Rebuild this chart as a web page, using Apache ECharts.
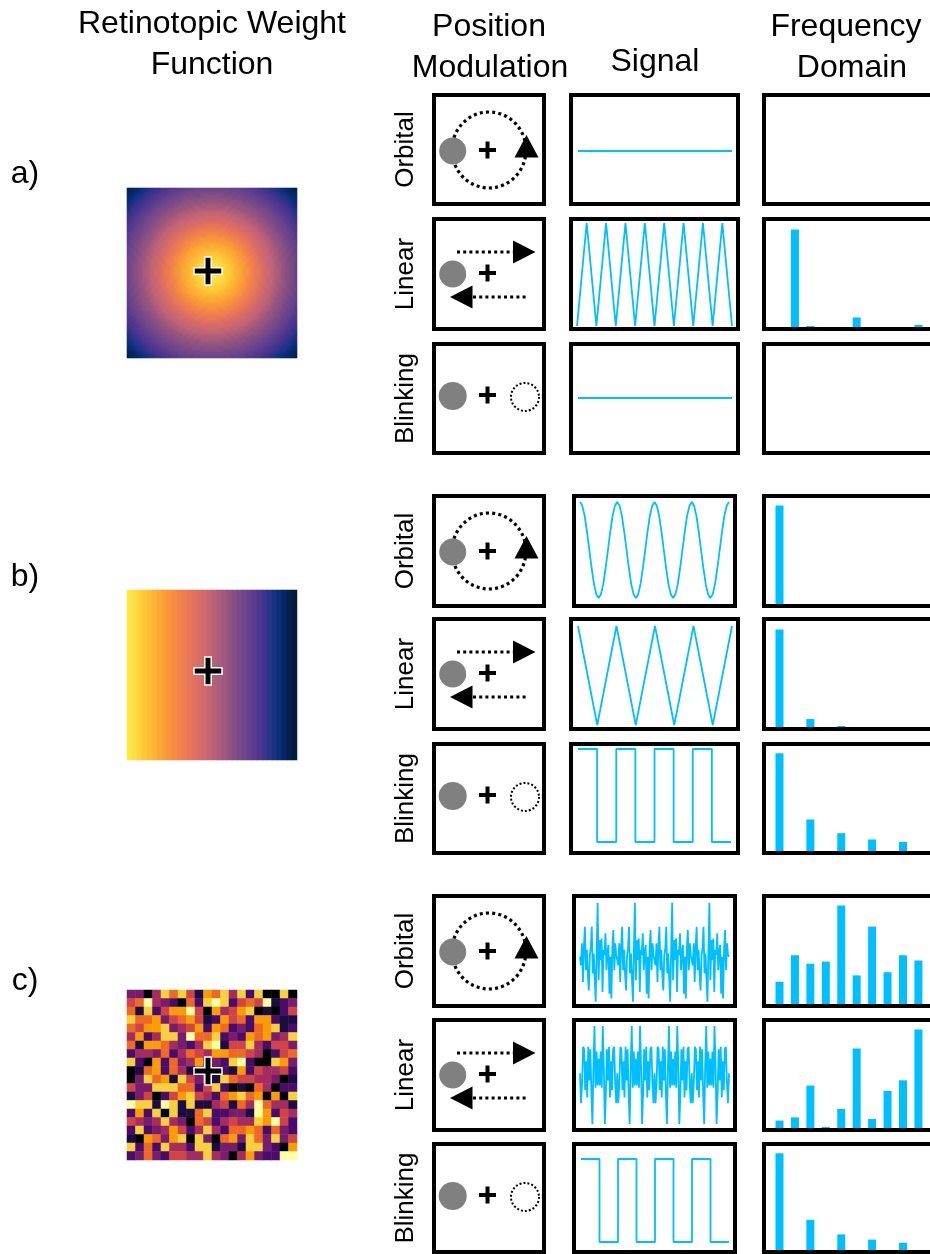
<!DOCTYPE html>
<html><head><meta charset="utf-8">
<script src="https://cdn.jsdelivr.net/npm/echarts@6/dist/echarts.min.js"></script>
<style>html,body{margin:0;padding:0;background:#fff}#chart{width:930px;height:1254px}</style>
</head><body><div id="chart"></div>
<script>
// ================= DATA =================
const headerLines = [
  ['Retinotopic Weight', 'Function'],
  ['Position', 'Modulation'],
  ['Signal'],
  ['Frequency', 'Domain']
];
const rowLabels = ['a)', 'b)', 'c)'];
const modulationNames = ['Orbital', 'Linear', 'Blinking'];

// a) radial weight profile (value vs distance from centre, 2.5 px steps)
const weightProfileA = [1.00,1.00,0.99,0.98,0.97,0.95,0.93,0.91,0.89,0.865,0.84,0.82,0.80,0.775,0.75,0.725,0.70,0.675,0.65,0.625,0.60,0.575,0.55,0.525,0.50,0.48,0.46,0.435,0.41,0.39,0.37,0.35,0.33,0.31,0.29,0.27,0.25,0.23,0.21,0.19,0.17,0.15,0.13,0.11,0.09,0.07,0.05,0.035,0.02,0.01,0.00];
const profileStepPx = 2.5;
// b) horizontal gradient, 34 columns left -> right
const weightColumnsB = [1.00,0.97,0.94,0.91,0.88,0.85,0.82,0.79,0.76,0.73,0.70,0.67,0.64,0.61,0.58,0.55,0.52,0.48,0.45,0.42,0.39,0.36,0.33,0.30,0.27,0.24,0.21,0.18,0.15,0.12,0.09,0.06,0.03,0.00];
// c) random weights, 20 x 20 levels (0 = dark, 9 = bright), rows top -> bottom
const weightGridC = [
  [3,3,0,4,8,6,8,5,1,7,6,8,4,8,2,8,0,0,8,0],
  [5,6,9,4,3,2,0,6,2,8,9,8,2,5,6,5,9,1,2,3],
  [6,1,8,2,5,7,7,9,5,0,7,4,5,7,8,0,1,0,2,5],
  [8,6,6,7,3,5,6,7,5,1,2,7,5,6,2,7,7,2,1,1],
  [6,5,7,7,8,3,4,5,7,2,7,6,2,3,2,6,7,8,1,2],
  [4,7,2,4,8,8,3,9,6,6,8,2,3,2,7,6,7,3,4,8],
  [6,1,7,7,6,4,3,2,4,8,9,1,5,5,8,4,2,5,5,3],
  [2,4,4,3,6,2,4,6,5,4,7,7,6,6,5,4,0,2,5,6],
  [8,2,0,7,2,6,3,4,7,4,3,2,8,9,2,0,0,8,7,3],
  [0,1,6,7,2,6,4,1,5,3,2,2,1,7,2,5,4,4,5,2],
  [0,3,8,6,7,1,8,5,3,6,1,8,6,5,5,4,4,3,0,1],
  [5,3,3,8,8,8,6,6,2,5,8,2,0,1,0,6,4,0,2,2],
  [1,3,5,0,2,5,7,8,5,4,2,6,7,8,6,7,0,7,0,8],
  [9,8,8,1,9,8,1,8,1,1,4,5,1,6,4,9,6,4,4,1],
  [2,7,2,8,0,8,1,1,6,8,2,2,3,3,1,9,7,2,5,4],
  [5,4,3,4,8,4,3,0,6,5,2,4,5,4,4,8,7,9,5,2],
  [2,8,2,3,4,7,5,2,4,8,4,2,6,6,7,6,2,6,3,2],
  [1,0,7,6,3,7,8,0,8,3,0,6,7,3,8,6,3,8,3,5],
  [8,2,6,2,8,4,4,2,8,8,1,3,3,1,8,8,3,2,0,7],
  [2,3,6,3,2,5,5,4,4,8,4,3,0,4,7,3,2,2,9,9]
];

// Signals (y values, sample index on x)
const signalAOrbital = [0, 0];
const signalALinear = [-1,1,-1,1,-1,1,-1,1,-1,1,-1,1,-1,1,-1,1,-1];
const signalABlinking = [0, 0];
const signalBOrbital = [
  1,0.92,0.71,0.38,0,-0.38,-0.71,-0.92,-1,-0.92,-0.71,-0.38,0,0.38,0.71,0.92,
  1,0.92,0.71,0.38,0,-0.38,-0.71,-0.92,-1,-0.92,-0.71,-0.38,0,0.38,0.71,0.92,
  1,0.92,0.71,0.38,0,-0.38,-0.71,-0.92,-1,-0.92,-0.71,-0.38,0,0.38,0.71,0.92,
  1,0.92,0.71,0.38,0,-0.38,-0.71,-0.92,-1,-0.92,-0.71,-0.38,0,0.38,0.71,0.92,
  1];
const signalBLinear = [1,-1,1,-1,1,-1,1,-1,1];
const squareTimes = [0,1,1,2,2,3,3,4,4,5,5,6,6,7,7,8];
const signalBBlinking = [1,1,-1,-1,1,1,-1,-1,1,1,-1,-1,1,1,-1,-1];
const signalCOrbital = [
  0,-0.16,0.25,-0.47,0.19,0.56,-0.25,0.13,-0.34,-0.63,0.03,0.16,0.56,-0.31,0.06,-0.41,-0.84,0.13,1.01,-0.44,0.31,-0.06,0.34,-0.66,0.13,0.03,0.44,-0.25,0.09,0.22,-0.69,0,-0.78,0.16,0.5,-0.25,0.25,0.03,
  0,-0.16,0.25,-0.47,0.19,0.56,-0.25,0.13,-0.34,-0.63,0.03,0.16,0.56,-0.31,0.06,-0.41,-0.84,0.13,1.01,-0.44,0.31,-0.06,0.34,-0.66,0.13,0.03,0.44,-0.25,0.09,0.22,-0.69,0,-0.78,0.16,0.5,-0.25,0.25,0.03,
  0,-0.16,0.25,-0.47,0.19,0.56,-0.25,0.13,-0.34,-0.63,0.03,0.16,0.56,-0.31,0.06,-0.41,-0.84,0.13,1.01,-0.44,0.31,-0.06,0.34,-0.66,0.13,0.03,0.44,-0.25,0.09,0.22,-0.69,0,-0.78,0.16,0.5,-0.25,0.25,0.03,
  0,-0.16,0.25,-0.47,0.19,0.56,-0.25,0.13,-0.34,-0.63,0.03,0.16,0.56,-0.31,0.06,-0.41,-0.84,0.13,1.01,-0.44,0.31,-0.06,0.34,-0.66,0.13,0.03,0.44,-0.25,0.09,0.22,-0.69,0,-0.78,0.16,0.5,-0.25,0.25,0.03,
  0];
const signalCLinear = [
  0,-0.62,-0.2,0.55,0.5,-0.35,0.25,-0.5,0.55,-0.15,0.5,-0.4,-1.05,0.15,0.98,-0.3,0.45,-0.25,0.3,-0.25,0.45,-0.3,0.98,0.15,-1.05,-0.4,0.5,-0.15,0.55,-0.5,0.25,-0.35,0.5,0.55,-0.2,-0.62,
  0,-0.62,-0.2,0.55,0.5,-0.35,0.25,-0.5,0.55,-0.15,0.5,-0.4,-1.05,0.15,0.98,-0.3,0.45,-0.25,0.3,-0.25,0.45,-0.3,0.98,0.15,-1.05,-0.4,0.5,-0.15,0.55,-0.5,0.25,-0.35,0.5,0.55,-0.2,-0.62,
  0,-0.62,-0.2,0.55,0.5,-0.35,0.25,-0.5,0.55,-0.15,0.5,-0.4,-1.05,0.15,0.98,-0.3,0.45,-0.25,0.3,-0.25,0.45,-0.3,0.98,0.15,-1.05,-0.4,0.5,-0.15,0.55,-0.5,0.25,-0.35,0.5,0.55,-0.2,-0.62,
  0,-0.62,-0.2,0.55,0.5,-0.35,0.25,-0.5,0.55,-0.15,0.5,-0.4,-1.05,0.15,0.98,-0.3,0.45,-0.25,0.3,-0.25,0.45,-0.3,0.98,0.15,-1.05,-0.4,0.5,-0.15,0.55,-0.5,0.25,-0.35,0.5,0.55,-0.2,-0.62,
  0];
const signalCBlinking = [1,1,-1,-1,1,1,-1,-1,1,1,-1,-1,1,1,-1,-1];

// Frequency domain (harmonic index 0..10, normalised amplitude)
const freqBins = [0,1,2,3,4,5,6,7,8,9,10];
const freqAOrbital  = [0,0,0,0,0,0,0,0,0,0,0];
const freqALinear   = [0,0,0.92,0.01,0,0,0.09,0,0,0,0.02];
const freqABlinking = [0,0,0,0,0,0,0,0,0,0,0];
const freqBOrbital  = [0,0.93,0,0,0,0,0,0,0,0,0];
const freqBLinear   = [0,0.92,0,0.075,0,0.01,0,0,0,0,0];
const freqBBlinking = [0,0.93,0,0.30,0,0.17,0,0.11,0,0.086,0];
const freqCOrbital  = [0,0.21,0.46,0.38,0.40,0.93,0.27,0.73,0.30,0.46,0.41];
const freqCLinear   = [0,0.07,0.10,0.40,0.01,0.18,0.75,0.085,0.35,0.45,0.93];
const freqCBlinking = [0,0.93,0,0.29,0,0.15,0,0.10,0,0.07,0];

// ================= LAYOUT / STYLE =================
const FONT = '"Liberation Sans", Arial, Helvetica, sans-serif';
const BLUE = '#00bfff';
const weightColorsAB = ['#001a3a','#0a3080','#4c3590','#6e468a','#95567f','#c06477','#de6f62','#f3824a','#fba234','#fec434','#ffe94a'];
const infernoColors = ['#000004','#1b0c41','#4a0c6b','#781c6d','#a52c60','#cf4446','#ed6925','#fb9b06','#f7d13d','#fcffa4'];

const frameTops = [[93,217,342],[494,617,742],[894,1018,1142]];
const frameBottoms = [[206,331,455],[608,731,855],[1008,1132,1254]];
const signalFrameX = [[[569,740],[569,740],[569,740]],[[572,737],[569,740],[569,740]],[[572,737],[572,737],[572,737]]];
const signalPlot = [ // x0,x1,yTop,yBottom (pixel extent of the data range)
  [[578,732,140,162],[577,732,223,326],[578,732,387,409]],
  [[580,729,502,598],[578,732,626,725],[578,731,749,842]],
  [[580,729,902.7,1001.7],[580,729,1026,1124],[581,729,1159,1242]]
];
const signalYRange = [
  [[-1,1],[-1,1],[-1,1]],
  [[-1,1],[-1,1],[-1,1]],
  [[-0.84,1.01],[-1.05,0.98],[-1,1]]
];
const signals = [
  [signalAOrbital, signalALinear, signalABlinking],
  [signalBOrbital, signalBLinear, signalBBlinking],
  [signalCOrbital, signalCLinear, signalCBlinking]
];
const signalTimes = [
  [null, null, null],
  [null, null, squareTimes],
  [null, null, squareTimes]
];
const freqs = [
  [freqAOrbital, freqALinear, freqABlinking],
  [freqBOrbital, freqBLinear, freqBBlinking],
  [freqCOrbital, freqCLinear, freqCBlinking]
];
const imageTops = [188, 590, 990];
const crossCenters = [[208,271],[208,671],[208,1071]];

// ================= BUILD =================
const grids = [], xAxes = [], yAxes = [], series = [], graphics = [];
function addGrid(g, xa, ya) {
  const i = grids.length;
  grids.push(Object.assign({show: false, containLabel: false}, g));
  xAxes.push(Object.assign({gridIndex: i, show: false}, xa));
  yAxes.push(Object.assign({gridIndex: i, show: false}, ya));
  return i;
}

// heatmaps
(function () {
  const nA = 85, cellPx = 2, dataA = [];   // 2 px cells
  for (let r = 0; r < nA; r++) for (let c = 0; c < nA; c++) {
    const dPx = Math.hypot(c + 0.5 - nA / 2, r + 0.5 - nA / 2) * cellPx;
    const idx = Math.min(weightProfileA.length - 1, Math.round(dPx / profileStepPx));
    dataA.push([c, r, weightProfileA[idx]]);
  }
  const dataB = weightColumnsB.map((v, c) => [c, 0, v]);
  const dataC = [];
  weightGridC.forEach((row, r) => row.forEach((v, c) => dataC.push([c, r, v])));
  const sets = [[dataA, nA, nA], [dataB, weightColumnsB.length, 1], [dataC, 20, 20]];
  sets.forEach((s, k) => {
    const cats = n => Array.from({length: n}, (_, i) => i);
    const gi = addGrid({left: 127, top: imageTops[k], width: 170, height: 170},
      {type: 'category', data: cats(s[1])}, {type: 'category', data: cats(s[2]), inverse: true});
    series.push({type: 'heatmap', xAxisIndex: gi, yAxisIndex: gi, data: s[0], progressive: 0,
      itemStyle: {borderWidth: 0}, emphasis: {disabled: true}});
  });
})();

// signals and frequency panels
for (let r = 0; r < 3; r++) {
  for (let m = 0; m < 3; m++) {
    const p = signalPlot[r][m], yr = signalYRange[r][m];
    const vals = signals[r][m], times = signalTimes[r][m];
    const data = vals.map((v, i) => [times ? times[i] : i, v]);
    const xMax = times ? times[times.length - 1] : vals.length - 1;
    const gi = addGrid({left: p[0], top: p[2], width: p[1] - p[0], height: p[3] - p[2]},
      {type: 'value', min: 0, max: xMax}, {type: 'value', min: yr[0], max: yr[1]});
    series.push({type: 'line', xAxisIndex: gi, yAxisIndex: gi, data: data, symbol: 'none',
      clip: false, lineStyle: {color: BLUE, width: 1.8}, silent: true});

    const top = frameTops[r][m] + 4, bottom = frameBottoms[r][m] - 4;
    const gf = addGrid({left: 766, top: top, width: 170, height: bottom - top},
      {type: 'value', min: 0.125, max: 10.75}, {type: 'value', min: 0, max: 1});
    series.push({type: 'bar', xAxisIndex: gf, yAxisIndex: gf,
      data: freqs[r][m].map((v, i) => [freqBins[i], v]), barWidth: 8,
      itemStyle: {color: BLUE}, silent: true});
  }
}

// ---------- graphics ----------
function txt(s, x, y, size, rot) {
  graphics.push({type: 'text', x: x, y: y, rotation: rot || 0, z: 120,
    style: {text: s, font: size + 'px ' + FONT, fill: '#000', textAlign: 'center', textVerticalAlign: 'middle'}});
}
txt(headerLines[0][0], 212, 24, 32); txt(headerLines[0][1], 212, 65, 32);
txt(headerLines[1][0], 489, 27, 32); txt(headerLines[1][1], 490, 68, 32);
txt(headerLines[2][0], 655, 62, 32);
txt(headerLines[3][0], 846, 27, 32); txt(headerLines[3][1], 852, 68, 32);
txt(rowLabels[0], 25, 174, 32); txt(rowLabels[1], 25, 577, 32); txt(rowLabels[2], 25, 981, 32);

function frame(x0, x1, y0, y1) {
  graphics.push({type: 'rect', z: 110, shape: {x: x0 + 2, y: y0 + 2, width: x1 - x0 - 4, height: y1 - y0 - 4},
    style: {fill: 'none', stroke: '#000', lineWidth: 4}});
}
function plus(cx, cy, half, t, fill, stroke) {
  graphics.push({type: 'polygon', z: 115, shape: {points: [
    [cx - t, cy - half], [cx + t, cy - half], [cx + t, cy - t], [cx + half, cy - t], [cx + half, cy + t], [cx + t, cy + t],
    [cx + t, cy + half], [cx - t, cy + half], [cx - t, cy + t], [cx - half, cy + t], [cx - half, cy - t], [cx - t, cy - t]]},
    style: {fill: fill, stroke: stroke || null, lineWidth: stroke ? 1.5 : 0}});
}
crossCenters.forEach(c => plus(c[0], c[1], 14, 3.2, '#000', '#fff'));

for (let r = 0; r < 3; r++) {
  for (let m = 0; m < 3; m++) {
    const t = frameTops[r][m], b = frameBottoms[r][m];
    frame(432, 546, t, b);
    frame(signalFrameX[r][m][0], signalFrameX[r][m][1], t, b);
    frame(762, 960, t, b);
    txt(modulationNames[m], 406, (t + b) / 2, 26, Math.PI / 2);
    if (m === 0) {
      graphics.push({type: 'ellipse', z: 111, shape: {cx: 489, cy: t + 57, rx: 37, ry: 38},
        style: {fill: 'none', stroke: '#000', lineWidth: 3.2, lineDash: [3, 3.2]}});
      graphics.push({type: 'polygon', z: 113, shape: {points: [[526.5, t + 42], [538.5, t + 64.5], [514.5, t + 64.5]]}, style: {fill: '#000'}});
      graphics.push({type: 'circle', z: 114, shape: {cx: 452.7, cy: t + 58, r: 13.5}, style: {fill: '#808080'}});
      plus(487.5, t + 57, 8.5, 2, '#000');
    } else if (m === 1) {
      graphics.push({type: 'line', z: 111, shape: {x1: 457, y1: t + 35, x2: 513, y2: t + 35},
        style: {stroke: '#000', lineWidth: 3.2, lineDash: [3, 3.2]}});
      graphics.push({type: 'polygon', z: 113, shape: {points: [[513, t + 23.5], [535.5, t + 35], [513, t + 46.5]]}, style: {fill: '#000'}});
      graphics.push({type: 'line', z: 111, shape: {x1: 473, y1: t + 80, x2: 528.5, y2: t + 80},
        style: {stroke: '#000', lineWidth: 3.2, lineDash: [3, 3.2]}});
      graphics.push({type: 'polygon', z: 113, shape: {points: [[472.5, t + 68.5], [450, t + 80], [472.5, t + 91.5]]}, style: {fill: '#000'}});
      graphics.push({type: 'circle', z: 114, shape: {cx: 452.7, cy: t + 57, r: 13.5}, style: {fill: '#808080'}});
      plus(487.5, t + 56, 8.5, 2, '#000');
    } else {
      graphics.push({type: 'circle', z: 114, shape: {cx: 452.7, cy: t + 54, r: 14}, style: {fill: '#808080'}});
      plus(487.5, t + 53, 8.5, 2, '#000');
      graphics.push({type: 'circle', z: 111, shape: {cx: 525, cy: t + 55, r: 14},
        style: {fill: 'none', stroke: '#000', lineWidth: 2, lineDash: [2, 2]}});
    }
  }
}

const chart = echarts.init(document.getElementById('chart'), null, {renderer: 'canvas'});
chart.setOption({
  backgroundColor: '#fff',
  animation: false,
  grid: grids, xAxis: xAxes, yAxis: yAxes,
  visualMap: [
    {type: 'continuous', show: false, min: 0, max: 1, seriesIndex: [0, 1], inRange: {color: weightColorsAB}},
    {type: 'continuous', show: false, min: 0, max: 9, seriesIndex: [2], inRange: {color: infernoColors}}
  ],
  series: series,
  graphic: {elements: graphics}
});
</script></body></html>
